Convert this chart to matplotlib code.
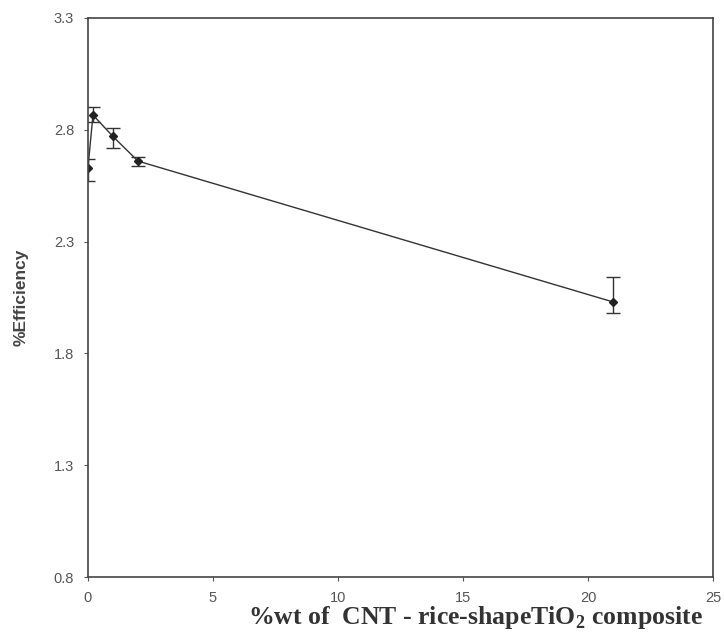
import matplotlib.pyplot as plt

plt.rcParams['mathtext.fontset'] = 'custom'
plt.rcParams['mathtext.rm'] = 'Liberation Serif'
plt.rcParams['mathtext.bf'] = 'Liberation Serif:bold'

# data
wt = [0, 0.2, 1, 2, 21]
eff = [2.63, 2.866, 2.77, 2.66, 2.03]
err_low = [0.06, 0.03, 0.05, 0.02, 0.05]
err_high = [0.04, 0.035, 0.04, 0.02, 0.11]

xticks = [0, 5, 10, 15, 20, 25]
yticks = [0.8, 1.3, 1.8, 2.3, 2.8, 3.3]

fig = plt.figure(figsize=(7.24, 6.35), dpi=100)
ax = fig.add_axes([0.1215, 0.0913, 0.8635, 0.8804])

ax.errorbar(wt, eff, yerr=[err_low, err_high], color='#333333', lw=1.0,
            marker='D', ms=4, mfc='#222222', mec='#222222',
            ecolor='#333333', elinewidth=1.0, capsize=5, capthick=1.0)

ax.set_xlim(0, 25)
ax.set_ylim(0.8, 3.3)
ax.set_xticks(xticks)
ax.set_yticks(yticks)
ax.set_xticklabels([str(v) for v in xticks])
ax.set_yticklabels([f"{v:.1f}" for v in yticks])

for lab in ax.get_xticklabels() + ax.get_yticklabels():
    lab.set_family('Liberation Sans')
    lab.set_fontsize(10.5)
    lab.set_color('#555555')

ax.tick_params(axis='both', direction='out', length=3, color='#555555', pad=7)
for sp in ax.spines.values():
    sp.set_color('#444444')
    sp.set_linewidth(1.2)

ax.set_xlabel(r'%wt of  CNT - rice-shapeTiO$_\mathbf{2}$ composite', family='Liberation Serif',
              fontweight='bold', fontsize=18.5, color='#333333')
ax.xaxis.set_label_coords(0.62, -0.048)
ax.set_ylabel('%Efficiency', family='Liberation Sans', fontsize=12.5,
              fontweight='bold', color='#444444')
ax.yaxis.set_label_coords(-0.095, 0.5)

fig.savefig('out.png', dpi=100)
